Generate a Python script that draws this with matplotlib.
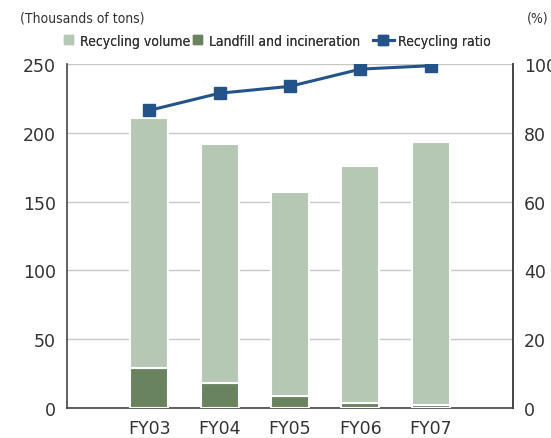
import matplotlib.pyplot as plt
from matplotlib.patches import Patch
from matplotlib.lines import Line2D

years = ['FY03', 'FY04', 'FY05', 'FY06', 'FY07']
landfill = [29, 18, 9, 4, 2]
recycling = [182, 174, 148, 172, 191]
ratio = [86.5, 91.5, 93.5, 98.5, 99.5]

light = '#b5c8b4'
dark = '#6a835f'
blue = '#24538a'
txt = '#333333'

plt.rcParams['font.family'] = ['DejaVu Sans']

fig = plt.figure(figsize=(5.51, 4.39), dpi=100)
ax = fig.add_axes([0.1216, 0.0683, 0.8094, 0.7837])
x = range(len(years))
ax.bar(x, landfill, width=0.54, color=dark, edgecolor='white', linewidth=1.5, zorder=3)
ax.bar(x, recycling, bottom=landfill, width=0.54, color=light, edgecolor='white', linewidth=1.5, zorder=3)
ax.set_xlim(-1.165, 5.165)
ax.set_ylim(0, 250)
ax.set_yticks([0, 50, 100, 150, 200, 250])
ax.set_xticks(list(x))
ax.set_xticklabels(years)
ax.grid(axis='y', color='#c8c8c8', linewidth=1, zorder=0)
ax.tick_params(length=0, labelsize=12.5, colors=txt, pad=8)
ax.spines['top'].set_visible(False)
for s in ['left', 'bottom', 'right']:
    ax.spines[s].set_color('#444444')
    ax.spines[s].set_linewidth(1.2)

ax2 = ax.twinx()
ax2.plot(x, ratio, color=blue, lw=2.2, marker='s', ms=9, zorder=5)
ax2.set_ylim(0, 100)
ax2.set_yticks([0, 20, 40, 60, 80, 100])
ax2.tick_params(length=0, labelsize=12.5, colors=txt, pad=8)
ax2.spines['top'].set_visible(False)
ax2.spines['right'].set_color('#444444')
ax2.spines['right'].set_linewidth(1.2)
ax2.spines['left'].set_visible(False)
ax2.spines['bottom'].set_visible(False)

fig.text(0.036, 0.958, '(Thousands of tons)', fontsize=10, color=txt, va='center', fontstretch='condensed')
fig.text(0.995, 0.958, '(%)', fontsize=10, color=txt, va='center', ha='right', fontstretch='condensed')

prop = {'size': 10, 'stretch': 'condensed'}
handles = [Patch(color=light, label='Recycling volume'),
           Patch(color=dark, label='Landfill and incineration'),
           Line2D([], [], color=blue, lw=2.2, marker='s', ms=7, label='Recycling ratio')]
xs = [0.116, 0.350, 0.677]
for h, xp in zip(handles, xs):
    is_line = isinstance(h, Line2D)
    leg = fig.legend(handles=[h], loc='center left', bbox_to_anchor=(xp, 0.905), frameon=False,
                     prop=prop, handlelength=1.5 if is_line else 0.65, handleheight=0.65,
                     handletextpad=0.3 if is_line else 0.5, labelcolor=txt,
                     borderpad=0, borderaxespad=0)
    fig.add_artist(leg)

fig.savefig('out.png', dpi=100)
